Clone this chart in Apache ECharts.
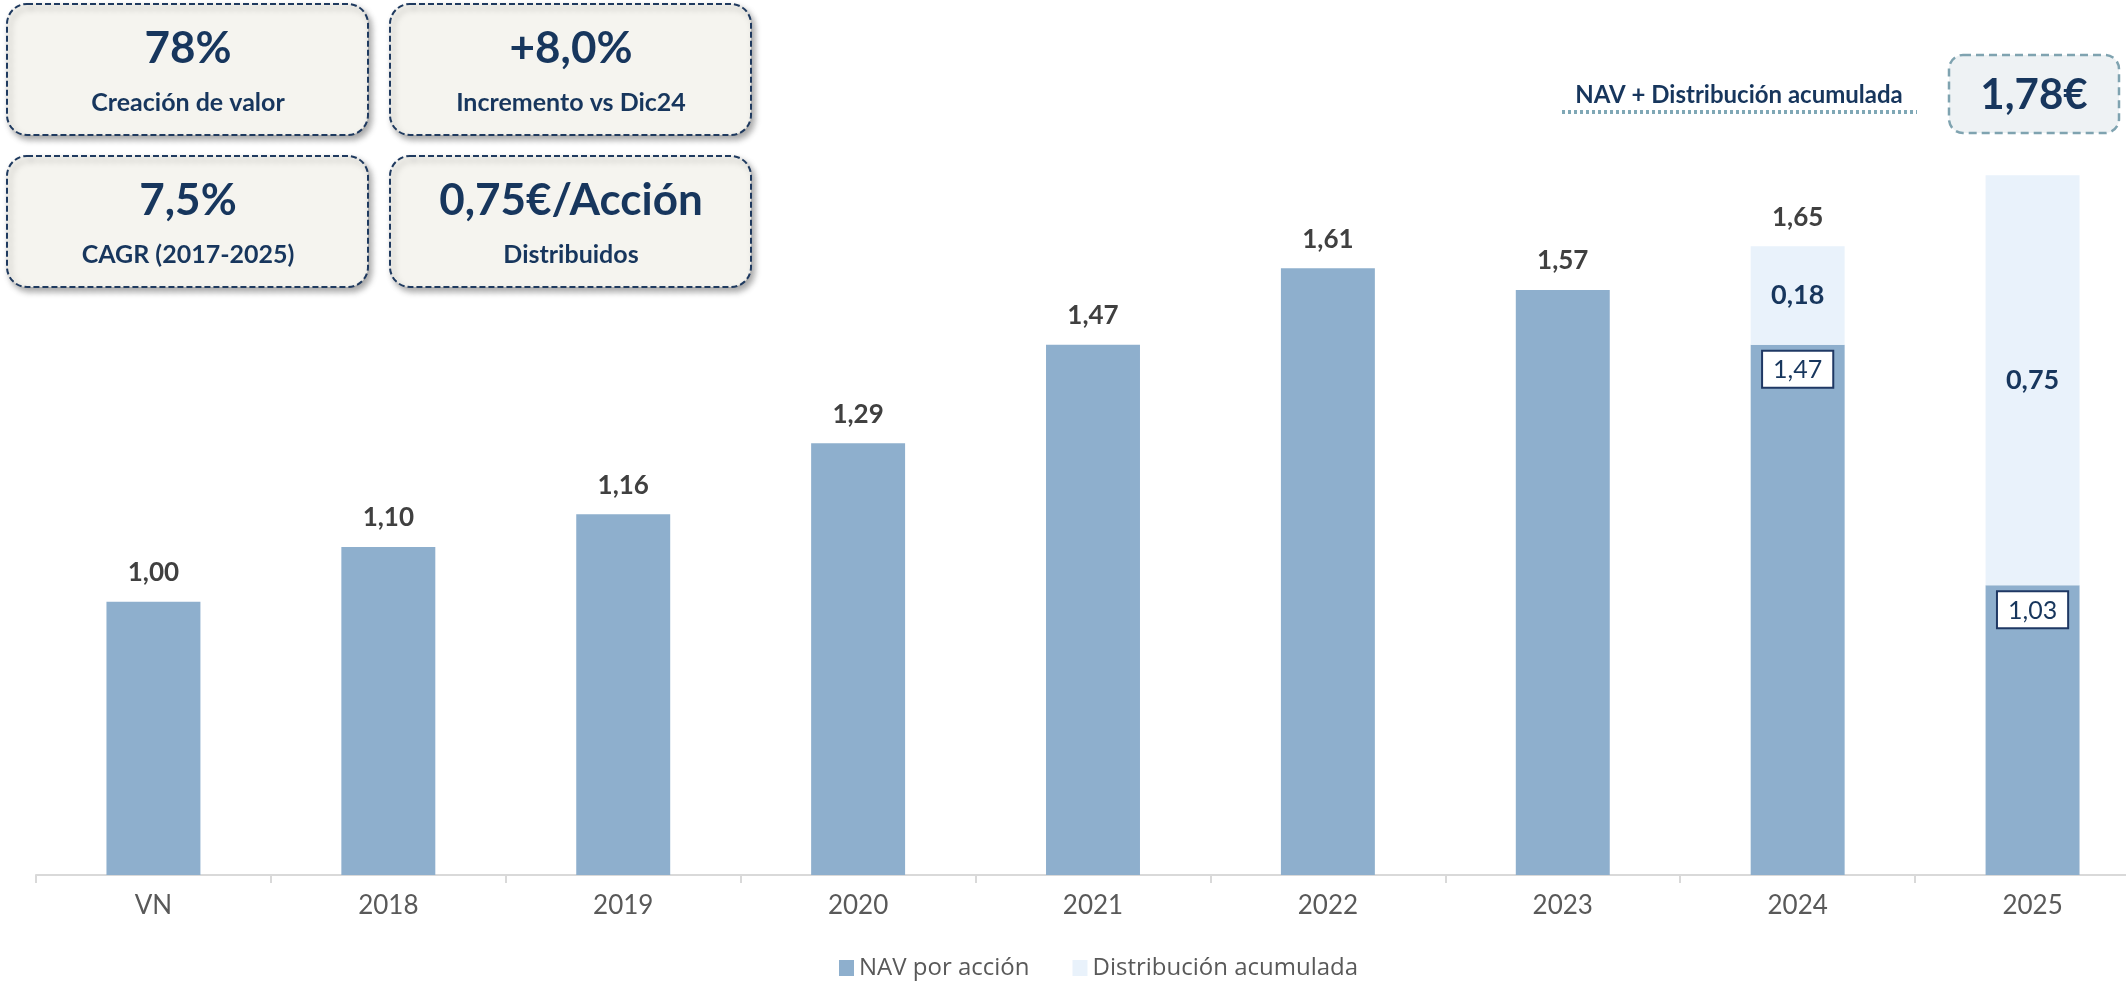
<!DOCTYPE html>
<html>
<head>
<meta charset="utf-8">
<script src="https://cdn.jsdelivr.net/npm/echarts@6/dist/echarts.min.js"></script>
<style>
  html, body { margin: 0; padding: 0; background: #fff; overflow: hidden; }
  /* el gráfico original está cortado por la derecha */
  #chart { width: 2150px; height: 982px; }
</style>
</head>
<body>
<div id="chart"></div>
<script>
// datos
const categories = ['VN', '2018', '2019', '2020', '2021', '2022', '2023', '2024', '2025'];
const navPerShare = [1.00, 1.10, 1.16, 1.29, 1.47, 1.61, 1.57, 1.47, 1.03];
const distAccum = [null, null, null, null, null, null, null, 0.18, 0.75];
const totalLabelCats = ['2024'];
const kpis = [
  { big: '78%', small: 'Creación de valor' },
  { big: '+8,0%', small: 'Incremento vs Dic24' },
  { big: '7,5%', small: 'CAGR (2017-2025)' },
  { big: '0,75€/Acción', small: 'Distribuidos' },
];
const navPlusDistTitle = 'NAV + Distribución acumulada';
const navPlusDistValue = '1,78€';

const NAVY = '#17365d';
const fmt = v => v.toFixed(2).replace('.', ',');

const chart = echarts.init(document.getElementById('chart'));

const navData = navPerShare.map((v, i) => {
  if (distAccum[i] == null) {
    return { value: v, label: { position: 'top', distance: 16, color: '#404040', fontWeight: 'bold', fontSize: 26 } };
  }
  return {
    value: v,
    label: {
      position: 'insideTop', distance: 7, color: NAVY, fontWeight: 'normal', fontSize: 25,
      backgroundColor: '#fff', borderColor: '#1f3864', borderWidth: 2, padding: [6, 10, 4, 10]
    }
  };
});

// barra vacía para la etiqueta del total apilado
const totalData = categories.map(c => (totalLabelCats.includes(c) ? 0 : null));

const kpiGraphics = [];
const boxPos = [[7, 4], [390, 4], [7, 156], [390, 156]];
kpis.forEach((k, i) => {
  const [x, y] = boxPos[i];
  kpiGraphics.push({
    type: 'rect', z: 10,
    shape: { x: x, y: y, width: 361, height: 131, r: 20 },
    style: {
      fill: '#f5f4ef', stroke: '#1f3a5f', lineWidth: 2, lineDash: [6, 3],
      shadowBlur: 6, shadowOffsetX: 3, shadowOffsetY: 4, shadowColor: 'rgba(0,0,0,0.35)'
    }
  });
  kpiGraphics.push({
    type: 'text', z: 11, x: x + 181, y: y + 45,
    style: { text: k.big, font: 'bold 44px Lato', fill: NAVY, align: 'center', verticalAlign: 'middle' }
  });
  kpiGraphics.push({
    type: 'text', z: 11, x: x + 181, y: y + 99,
    style: { text: k.small, font: 'bold 25px Lato', fill: NAVY, align: 'center', verticalAlign: 'middle' }
  });
});

chart.setOption({
  backgroundColor: '#fff',
  animation: false,
  grid: { left: 36, right: 0, top: 55, bottom: 107 },
  legend: {
    data: ['NAV por acción', 'Distribución acumulada'],
    left: 834, top: 951,
    itemWidth: 15, itemHeight: 16, itemGap: 43,
    icon: 'rect',
    textStyle: { color: '#595959', fontSize: 24, fontFamily: 'Open Sans' }
  },
  xAxis: {
    type: 'category',
    data: categories,
    axisLine: { lineStyle: { color: '#d9d9d9', width: 2 } },
    axisTick: { show: true, length: 8, lineStyle: { color: '#d9d9d9', width: 2 } },
    axisLabel: { color: '#595959', fontSize: 26, fontFamily: 'Lato', margin: 18 }
  },
  yAxis: { type: 'value', min: 0.5, max: 2.0, show: false, splitLine: { show: false } },
  series: [
    {
      name: 'NAV por acción', type: 'bar', stack: 'total', barWidth: '40%',
      itemStyle: { color: '#8eafcd' },
      label: { show: true, fontFamily: 'Lato', formatter: p => fmt(p.value) },
      data: navData
    },
    {
      name: 'Distribución acumulada', type: 'bar', stack: 'total', barWidth: '40%',
      itemStyle: { color: '#e9f2fb' },
      label: {
        show: true, position: 'inside', color: NAVY, fontWeight: 'bold', fontSize: 27, fontFamily: 'Lato',
        formatter: p => (p.value == null ? '' : fmt(p.value))
      },
      data: distAccum
    },
    {
      name: 'total', type: 'bar', stack: 'total', barWidth: '40%',
      itemStyle: { color: 'transparent' },
      label: {
        show: true, position: 'top', distance: 16, color: '#404040', fontWeight: 'bold', fontSize: 26, fontFamily: 'Lato',
        formatter: p => fmt(navPerShare[p.dataIndex] + distAccum[p.dataIndex])
      },
      data: totalData
    }
  ],
  graphic: kpiGraphics.concat([
    {
      type: 'text', z: 11, x: 1739, y: 95,
      style: { text: navPlusDistTitle, font: 'bold 24px Lato', fill: NAVY, align: 'center', verticalAlign: 'middle' }
    },
    {
      type: 'line', z: 11,
      shape: { x1: 1562, y1: 112, x2: 1917, y2: 112 },
      style: { stroke: '#7fa7b5', lineWidth: 4, lineDash: [3, 3] }
    },
    {
      type: 'rect', z: 10,
      shape: { x: 1949, y: 55, width: 170, height: 78, r: 14 },
      style: { fill: '#eef2f4', stroke: '#7fa3b0', lineWidth: 2.5, lineDash: [8, 5] }
    },
    {
      type: 'text', z: 11, x: 2034, y: 95,
      style: { text: navPlusDistValue, font: 'bold 42px Lato', fill: NAVY, align: 'center', verticalAlign: 'middle' }
    }
  ])
});
</script>
</body>
</html>
